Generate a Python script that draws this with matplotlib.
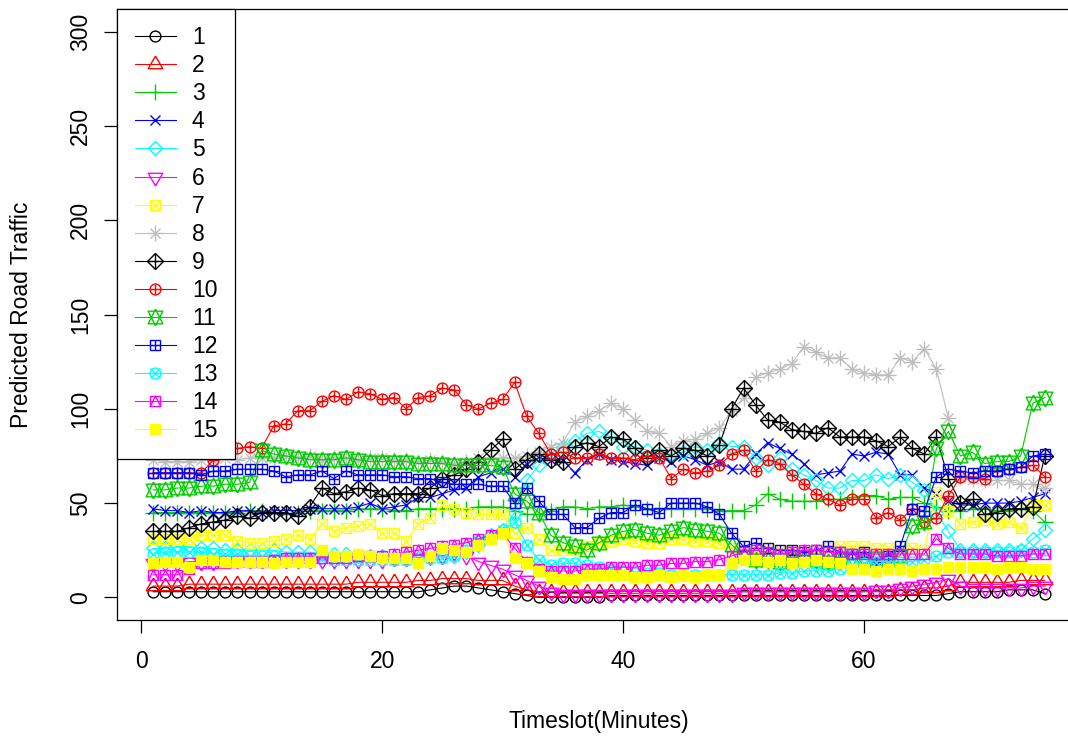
import matplotlib.pyplot as plt
import numpy as np

plt.rcParams['font.family'] = ['Liberation Sans', 'DejaVu Sans']

timeslot = np.arange(1, 76)

s1 = [3, 3, 3, 3, 3, 3, 3, 3, 3, 3, 3, 3, 3, 3, 3, 3, 3, 3, 3, 3, 3, 3, 3, 4,
      5, 6, 6, 5, 4, 3, 2,
      1, 0, 0, 0, 0, 0, 0, 1, 1, 1, 1, 1, 1, 1, 1, 1, 1, 1, 1, 1, 1, 1, 1, 1,
      1, 1, 1, 1, 1, 1, 1, 1, 1, 1, 1,
      2, 3, 3, 3, 3, 4, 4, 4, 2]
s2 = [6, 6, 6, 7, 7, 7, 7, 7, 7, 7,
      7, 7, 7, 7, 7, 7, 7, 8, 8, 8,
      8, 8, 9, 9, 10, 10, 10, 9, 9, 9,
      6, 4, 3, 3, 3, 3, 3, 3, 3, 3,
      3, 3, 3, 3, 3, 3, 3, 3, 3, 3,
      3, 3, 3, 3, 3, 3, 3, 3, 3, 3,
      3, 3, 4, 4, 5, 5, 6, 8, 8, 8,
      8, 8, 9, 9, 9]
s3 = [45, 45, 45, 45, 45, 45, 45, 45, 46, 46,
      45, 44, 45, 46, 46, 46, 46, 47, 47, 47,
      46, 46, 47, 47, 47, 47, 47, 48, 48, 48,
      46, 44, 44, 46, 48, 48, 47, 48, 48, 49,
      48, 47, 47, 47, 47, 47, 47, 46, 46, 46,
      49, 55, 52, 51, 51, 51, 52, 52, 53, 54,
      54, 52, 53, 53, 50, 48, 46, 46, 47, 47,
      46, 46, 47, 46, 40]
s4 = [47, 46, 46, 45, 46, 45, 45, 46, 46, 45,
      46, 46, 46, 47, 47, 47, 47, 48, 50, 47,
      48, 49, 53, 53, 55, 57, 58, 64, 66, 68,
      64, 71, 74, 73, 73, 66, 73, 76, 73, 72,
      71, 70, 74, 72, 75, 73, 70, 72, 68, 68,
      76, 82, 79, 76, 71, 65, 66, 67, 76, 75,
      77, 76, 65, 65, 58, 55, 51, 49, 49, 50,
      50, 50, 51, 53, 55]
s5 = [26, 26, 27, 27, 26, 26, 25, 25, 25, 25,
      25, 24, 24, 24, 23, 23, 23, 22, 22, 22,
      21, 21, 21, 21, 22, 22, 24, 28, 33, 36,
      45, 62, 70, 76, 80, 83, 87, 88, 85, 80,
      80, 78, 76, 76, 77, 80, 78, 82, 80, 80,
      74, 70, 74, 68, 65, 62, 58, 58, 62, 62,
      65, 63, 65, 61, 57, 45, 35, 25, 25, 25,
      25, 25, 25, 31, 36]
s6 = [18, 18, 18, 19, 19, 19, 20, 20, 20, 20,
      20, 20, 20, 20, 20, 20, 20, 20, 20, 20,
      21, 21, 21, 22, 22, 24, 22, 19, 17, 15,
      12, 9, 6, 3, 2, 2, 2, 2, 2, 2,
      2, 2, 2, 2, 2, 2, 2, 2, 2, 3,
      3, 3, 3, 3, 3, 3, 3, 3, 3, 3,
      4, 4, 5, 6, 7, 8, 10, 6, 5, 5,
      5, 5, 5, 6, 6]
s7 = [31, 31, 31, 31, 33, 33, 33, 30, 29, 29,
      30, 31, 33, 31, 39, 35, 37, 38, 39, 34,
      34, 30, 39, 42, 49, 47, 45, 44, 44, 44,
      34, 37, 31, 25, 25, 25, 27, 29, 30, 31,
      30, 29, 29, 31, 31, 30, 30, 29, 26, 25,
      25, 26, 25, 25, 24, 25, 26, 27, 27, 27,
      26, 26, 25, 26, 25, 56, 46, 39, 40, 41,
      39, 40, 37, 49, 49]
s8 = [73, 72, 72, 72, 73, 73, 74, 73, 74, 74,
      74, 75, 74, 75, 73, 74, 74, 73, 74, 74,
      73, 73, 72, 73, 72, 71, 72, 74, 74, 74,
      74, 75, 77, 80, 82, 93, 96, 99, 103, 100,
      94, 88, 87, 80, 83, 84, 87, 90, 99, 106,
      117, 119, 121, 124, 133, 130, 127, 127, 121, 119,
      118, 118, 127, 125, 132, 121, 95, 64, 63, 62,
      62, 62, 60, 60, 58]
s9 = [35, 35, 35, 37, 39, 40, 41, 43, 42, 45,
      45, 45, 43, 48, 58, 55, 56, 58, 57, 54,
      55, 55, 55, 58, 63, 65, 68, 72, 78, 84,
      68, 73, 76, 73, 72, 80, 82, 80, 85, 84,
      79, 74, 78, 75, 79, 78, 75, 81, 100, 111,
      102, 94, 93, 89, 88, 87, 90, 85, 85, 85,
      83, 80, 85, 79, 76, 85, 63, 50, 52, 44,
      45, 47, 47, 48, 75]
s10 = [66, 66, 66, 66, 66, 73, 79, 79, 80, 79,
       91, 92, 99, 99, 104, 107, 105, 109, 108, 105,
       106, 100, 106, 107, 111, 110, 102, 100, 103, 105,
       114, 96, 87, 76, 77, 74, 74, 76, 74, 74,
       73, 75, 74, 63, 68, 66, 67, 70, 76, 78,
       67, 73, 71, 65, 60, 55, 52, 49, 52, 52,
       42, 45, 41, 47, 40, 42, 54, 64, 64, 63,
       67, 68, 69, 70, 64]
s11 = [57, 57, 58, 58, 59, 59, 60, 60, 61, 78,
       76, 75, 74, 73, 73, 73, 74, 73, 72, 72,
       72, 72, 71, 71, 71, 70, 70, 70, 70, 69,
       55, 51, 45, 33, 29, 27, 25, 29, 33, 35,
       36, 34, 33, 35, 37, 36, 35, 34, 28, 22,
       20, 20, 19, 20, 21, 20, 19, 20, 21, 20,
       21, 20, 22, 38, 40, 79, 88, 75, 77, 71,
       72, 72, 75, 103, 106]
s12 = [66, 66, 66, 66, 65, 67, 67, 68, 68, 68,
       67, 64, 65, 65, 67, 63, 67, 65, 65, 65,
       64, 64, 63, 63, 61, 60, 60, 60, 59, 59,
       50, 58, 51, 44, 44, 37, 37, 42, 45, 45,
       49, 47, 45, 50, 50, 50, 48, 44, 34, 27,
       29, 26, 25, 25, 24, 25, 27, 24, 23, 24,
       19, 22, 27, 47, 46, 64, 68, 67, 66, 67,
       67, 68, 69, 75, 76]
s13 = [23, 24, 24, 24, 24, 23, 23, 23, 22, 22,
       22, 21, 21, 21, 21, 20, 20, 20, 20, 20,
       20, 20, 20, 21, 21, 22, 25, 30, 33, 36,
       40, 28, 20, 17, 18, 18, 17, 16, 15, 14,
       13, 13, 13, 12, 12, 12, 12, 12, 12, 12,
       12, 12, 13, 13, 14, 14, 14, 15, 17, 18,
       19, 19, 19, 19, 20, 22, 24, 24, 24, 24,
       24, 24, 25, 24, 25]
s14 = [12, 12, 12, 15, 18, 18, 18, 19, 19, 19,
       20, 21, 21, 21, 21, 21, 21, 22, 22, 22,
       23, 24, 25, 26, 27, 28, 29, 31, 33, 34,
       26, 19, 15, 14, 14, 14, 15, 15, 16, 16,
       16, 17, 17, 18, 18, 19, 19, 20, 22, 24,
       25, 24, 23, 24, 25, 25, 24, 24, 23, 23,
       23, 23, 23, 23, 23, 31, 26, 23, 23, 23,
       22, 22, 22, 23, 23]
s15 = [18, 19, 19, 16, 20, 20, 19, 19, 19, 19,
       18, 19, 19, 19, 25, 22, 22, 23, 22, 21,
       21, 21, 18, 22, 26, 25, 24, 28, 31, 34,
       21, 18, 14, 11, 10, 10, 12, 12, 12, 12,
       11, 11, 12, 11, 12, 11, 12, 12, 18, 20,
       20, 19, 20, 18, 19, 20, 19, 18, 15, 15,
       14, 15, 15, 14, 15, 15, 16, 16, 16, 16,
       15, 16, 16, 15, 15]

series = [s1, s2, s3, s4, s5, s6, s7, s8, s9, s10, s11, s12, s13, s14, s15]
labels = [str(i) for i in range(1, 16)]
palette = ['black', 'red', '#00CD00', 'blue', 'cyan', 'magenta', 'yellow', '#BEBEBE']
colors = [palette[i % 8] for i in range(15)]

# R plotting symbols pch 1..15 built from matplotlib markers (u = symbol radius in pt)
u = 3.9
tri_up = [(0, 1.555), (1.347, -0.778), (-1.347, -0.778), (0, 1.555)]
tri_dn = [(x, -y) for x, y in tri_up]
star_up = [(0, 1.555), (1.347, -1.1665), (-1.347, -1.1665), (0, 1.555)]
star_dn = [(x, -y) for x, y in star_up]
sq_tri = [(-1, -1), (0, 1), (1, -1)]
pch = [
    [('o', 2 * u)],
    [(tri_up, 3.11 * u)],
    [('+', 2.83 * u)],
    [('x', 2 * u)],
    [('D', 1.77 * u)],
    [(tri_dn, 3.11 * u)],
    [('s', 2 * u), ('x', 2 * u)],
    [('+', 2.83 * u), ('x', 2 * u)],
    [('D', 2 * u), ('+', 2.83 * u)],
    [('o', 2 * u), ('+', 2 * u)],
    [(star_up, 3.11 * u), (star_dn, 3.11 * u)],
    [('s', 2 * u), ('+', 2 * u)],
    [('o', 2 * u), ('x', 2 * u)],
    [('s', 2 * u), (sq_tri, 2 * u)],
    [('s', 2 * u)],
]

lw = 0.8
mew = 1.0
fig = plt.figure(figsize=(10.68, 7.36), dpi=100)
ax = fig.add_axes([0.110, 0.1576, 0.9017, 0.830])

handles = []
for i, y in enumerate(series):
    c = colors[i]
    fill = c if i == 14 else 'none'
    parts = []
    for j, (m, ms) in enumerate(pch[i]):
        ln, = ax.plot(timeslot, y, color=c, lw=lw if j == 0 else 0,
                      ls='-' if j == 0 else 'none', marker=m, ms=ms,
                      mfc=fill, mec=c, mew=mew)
        parts.append(ln)
    handles.append(tuple(parts))

ax.set_xlim(-1.96, 77.96)
ax.set_ylim(-12, 312)
ax.set_xticks([0, 20, 40, 60])
ax.set_yticks([0, 50, 100, 150, 200, 250, 300])
ax.tick_params(axis='both', labelsize=16.5, length=9.4, width=0.9, color='black')
ax.tick_params(axis='x', pad=12)
ax.tick_params(axis='y', pad=9, labelrotation=90)
for lbl in ax.get_yticklabels():
    lbl.set_va('center')
for sp in ax.spines.values():
    sp.set_linewidth(0.9)

ax.set_xlabel('Timeslot(Minutes)', fontsize=16.5, labelpad=27)
ax.set_ylabel('Predicted Road Traffic', fontsize=16.5, labelpad=26)

leg = ax.legend(handles, labels, loc='upper left', fontsize=16.5, frameon=True,
                fancybox=False, edgecolor='black', framealpha=1,
                borderaxespad=0, borderpad=0.75, handlelength=1.8,
                handletextpad=0.7, labelspacing=0.22)
leg.get_frame().set_linewidth(0.9)

fig.savefig('out.png', dpi=100)
